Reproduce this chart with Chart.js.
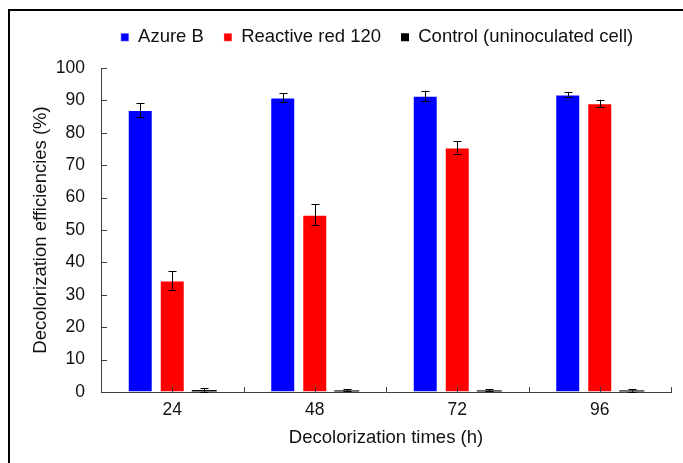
<!DOCTYPE html>
<html>
<head>
<meta charset="utf-8">
<script src="https://cdn.jsdelivr.net/npm/chart.js@4"></script>
<style>
  body { margin: 0; background: #fff; }
  #wrap { position: relative; width: 683px; height: 463px; }
  #frame { position: absolute; left: 8px; top: 9px; right: 0; bottom: 0; border-left: 2px solid #000; border-top: 2px solid #000; pointer-events: none; }
</style>
</head>
<body>
<div id="wrap">
  <canvas id="chart" width="683" height="463"></canvas>
  <div id="frame"></div>
</div>
<script>
const times = ['24', '48', '72', '96'];
const azureB = [87.0, 90.9, 91.4, 91.8];
const azureErr = [2.2, 1.3, 1.6, 0.7];
const reactiveRed = [34.4, 54.7, 75.5, 89.1];
const reactiveErr = [2.8, 3.3, 1.9, 1.1];
const control = [0.6, 0.5, 0.5, 0.5];
const controlErr = [0.5, 0.3, 0.3, 0.4];
const yTicks = [0, 10, 20, 30, 40, 50, 60, 70, 80, 90, 100];

const fontFamily = '"Liberation Sans", Arial, sans-serif';
const textFont = { family: fontFamily, size: 18.5 };
const tickFont = { family: fontFamily, size: 17.5 };

// error bars, drawn from the y scale
const errorBars = {
  id: 'errorBars',
  afterDatasetsDraw(chart) {
    const ctx = chart.ctx;
    const y = chart.scales.y;
    ctx.save();
    ctx.strokeStyle = '#000';
    ctx.lineWidth = 1;
    chart.data.datasets.forEach((ds, i) => {
      const meta = chart.getDatasetMeta(i);
      meta.data.forEach((bar, j) => {
        const v = ds.data[j], e = ds.errors[j];
        const top = y.getPixelForValue(v + e);
        const bot = y.getPixelForValue(v - e);
        const x = Math.round(bar.x) + 0.5;
        ctx.beginPath();
        ctx.moveTo(x, top); ctx.lineTo(x, bot);
        ctx.moveTo(x - 4, Math.round(top) + 0.5); ctx.lineTo(x + 4, Math.round(top) + 0.5);
        ctx.moveTo(x - 4, Math.round(bot) + 0.5); ctx.lineTo(x + 4, Math.round(bot) + 0.5);
        ctx.stroke();
      });
    });
    ctx.restore();
  }
};

// short inward tick marks on both axes
const innerTicks = {
  id: 'innerTicks',
  afterDatasetsDraw(chart) {
    const ctx = chart.ctx;
    const x = chart.scales.x, y = chart.scales.y;
    const a = chart.chartArea;
    ctx.save();
    ctx.strokeStyle = '#404040';
    ctx.lineWidth = 1;
    ctx.beginPath();
    yTicks.forEach(t => {
      const py = Math.round(y.getPixelForValue(t)) + 0.5;
      ctx.moveTo(a.left, py); ctx.lineTo(a.left + 6, py);
    });
    const step = x.getPixelForValue(1) - x.getPixelForValue(0);
    times.forEach((t, i) => {
      const c = x.getPixelForValue(i);
      [c, c + step / 2].forEach(px => {
        px = Math.round(px) + 0.5;
        ctx.moveTo(px, a.bottom); ctx.lineTo(px, a.bottom - 5);
      });
    });
    ctx.stroke();
    ctx.restore();
  }
};

// fixed legend box so the plot starts where the reference does
const legendSize = {
  id: 'legendSize',
  beforeInit(chart) {
    const fit = chart.legend.fit;
    chart.legend.fit = function () {
      fit.bind(chart.legend)();
      this.height = 60;
    };
  },
  afterLayout(chart) {
    chart.legend.left = 83;
  }
};

new Chart(document.getElementById('chart'), {
  type: 'bar',
  data: {
    labels: times,
    datasets: [
      { label: 'Azure B', data: azureB, errors: azureErr, backgroundColor: '#0000ff', borderColor: 'rgba(255,255,255,0.35)', borderWidth: 1 },
      { label: 'Reactive red 120', data: reactiveRed, errors: reactiveErr, backgroundColor: '#ff0000', borderColor: 'rgba(255,255,255,0.35)', borderWidth: 1 },
      { label: 'Control (uninoculated cell)', data: control, errors: controlErr, backgroundColor: '#000000', borderWidth: 0 }
    ]
  },
  options: {
    responsive: false,
    animation: false,
    categoryPercentage: 0.674,
    barPercentage: 0.78,
    layout: { padding: { top: 8, right: 12, left: 0, bottom: 0 } },
    plugins: {
      legend: {
        position: 'top',
        labels: { boxWidth: 8, boxHeight: 8, color: '#111', font: textFont, padding: 20 }
      },
      tooltip: { enabled: false }
    },
    scales: {
      x: {
        grid: { display: true, drawOnChartArea: false, drawTicks: false },
        border: { display: true, color: '#404040', width: 1 },
        ticks: { color: '#111', font: tickFont, padding: 8 },
        title: { display: true, text: 'Decolorization times (h)', color: '#111', font: textFont, padding: { top: 0, bottom: 14 } },
        afterFit(s) { s.height = 71; }
      },
      y: {
        min: 0,
        max: 100,
        afterBuildTicks(s) { s.ticks = yTicks.map(v => ({ value: v })); },
        grid: { display: true, drawOnChartArea: false, drawTicks: false },
        border: { display: true, color: '#404040', width: 1 },
        ticks: { color: '#111', font: tickFont, padding: 16 },
        title: { display: true, text: 'Decolorization efficiencies (%)', color: '#111', font: textFont, padding: { top: 30, bottom: 0 } },
        afterFit(s) { s.width = 101; }
      }
    }
  },
  plugins: [legendSize, errorBars, innerTicks]
});
</script>
</body>
</html>
